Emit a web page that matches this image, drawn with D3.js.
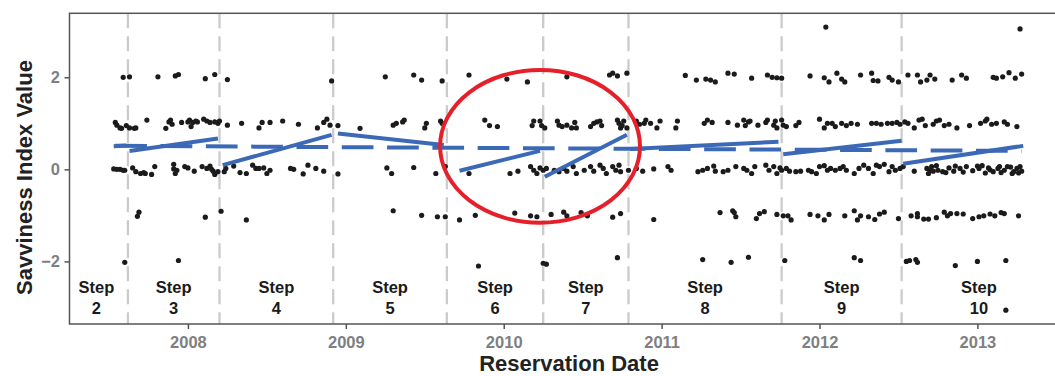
<!DOCTYPE html>
<html>
<head>
<meta charset="utf-8">
<script src="https://cdn.jsdelivr.net/npm/d3@7"></script>
<style>
  body { margin: 0; background: #fff; }
  svg { display: block; font-family: "Liberation Sans", Arial, sans-serif; }
</style>
</head>
<body>
<svg id="chart" width="1055" height="376"></svg>
<script>
// points, grouped by answer level: [decimal year, index value]
const level3 = [[2012.04, 3.09], [2013.27, 3.05]];
const level2 = [
  [2007.59, 2.00], [2007.63, 2.01], [2007.81, 2.01], [2007.92, 2.03], [2007.94, 2.06], [2008.11, 1.97],
  [2008.17, 2.06], [2008.25, 1.95], [2008.91, 1.92], [2009.25, 2.01], [2009.43, 2.05], [2009.48, 1.94],
  [2009.61, 1.92], [2009.78, 2.05], [2010.02, 1.96], [2010.15, 1.90], [2010.40, 2.01], [2010.67, 2.05],
  [2010.69, 2.09], [2010.72, 2.03], [2010.78, 2.09], [2011.15, 2.04], [2011.22, 1.94], [2011.28, 1.96],
  [2011.31, 1.94], [2011.34, 1.90], [2011.42, 2.09], [2011.46, 2.07], [2011.57, 1.98], [2011.67, 2.05],
  [2011.70, 2.00], [2011.73, 1.99], [2011.76, 1.98], [2011.94, 2.03], [2012.03, 1.99], [2012.06, 1.90],
  [2012.11, 2.09], [2012.14, 1.96], [2012.16, 1.90], [2012.26, 2.05], [2012.33, 2.09], [2012.34, 1.93],
  [2012.37, 1.92], [2012.44, 2.00], [2012.46, 1.94], [2012.50, 1.90], [2012.56, 2.05], [2012.62, 2.05],
  [2012.64, 1.90], [2012.68, 1.94], [2012.70, 2.05], [2012.73, 1.96], [2012.84, 1.94], [2012.90, 2.05],
  [2012.93, 1.98], [2013.10, 2.00], [2013.12, 1.98], [2013.16, 2.01], [2013.20, 2.10], [2013.24, 1.98],
  [2013.28, 2.07]
];
const level1 = [
  [2007.54, 1.02], [2007.55, 0.96], [2007.57, 0.90], [2007.58, 0.89], [2007.61, 0.95], [2007.63, 0.90],
  [2007.66, 0.89], [2007.67, 0.90], [2007.74, 1.07], [2007.86, 0.89], [2007.88, 1.03], [2007.89, 1.07],
  [2007.90, 0.98], [2007.96, 1.02], [2008.00, 1.03], [2008.01, 1.07], [2008.02, 0.93], [2008.03, 1.02],
  [2008.05, 1.05], [2008.06, 1.03], [2008.10, 1.09], [2008.12, 1.05], [2008.14, 1.02], [2008.17, 1.03],
  [2008.19, 1.00], [2008.20, 1.05], [2008.25, 0.96], [2008.34, 1.00], [2008.45, 0.90], [2008.47, 1.02],
  [2008.52, 1.02], [2008.60, 1.05], [2008.70, 0.98], [2008.82, 0.90], [2008.86, 1.02], [2008.88, 1.09],
  [2008.90, 0.96], [2008.95, 0.95], [2009.09, 0.89], [2009.30, 0.96], [2009.32, 1.00], [2009.36, 1.03],
  [2009.37, 1.07], [2009.50, 0.90], [2009.51, 1.00], [2009.60, 1.05], [2009.61, 1.00], [2009.88, 1.07],
  [2009.91, 0.95], [2009.96, 0.93], [2010.18, 0.95], [2010.19, 1.05], [2010.23, 1.05], [2010.24, 0.95],
  [2010.26, 0.90], [2010.34, 1.05], [2010.35, 0.96], [2010.37, 0.93], [2010.40, 0.96], [2010.43, 0.90],
  [2010.45, 1.02], [2010.46, 0.90], [2010.55, 0.93], [2010.57, 1.00], [2010.59, 1.03], [2010.61, 1.05],
  [2010.62, 0.95], [2010.72, 1.07], [2010.73, 1.00], [2010.74, 0.90], [2010.75, 0.95], [2010.76, 1.05],
  [2010.78, 0.90], [2010.84, 1.05], [2010.86, 0.98], [2010.89, 1.00], [2010.90, 1.07], [2010.93, 1.00],
  [2010.97, 0.90], [2010.99, 1.05], [2011.09, 0.90], [2011.10, 1.05], [2011.27, 1.00], [2011.29, 1.07],
  [2011.32, 1.02], [2011.42, 1.02], [2011.48, 0.96], [2011.52, 1.07], [2011.53, 0.95], [2011.55, 1.03],
  [2011.56, 1.05], [2011.61, 0.96], [2011.66, 1.02], [2011.67, 1.07], [2011.71, 0.96], [2011.72, 1.05],
  [2011.73, 0.90], [2011.76, 1.07], [2011.77, 0.96], [2011.79, 0.93], [2011.85, 0.95], [2011.87, 1.02],
  [2012.00, 1.09], [2012.03, 0.90], [2012.05, 1.00], [2012.08, 1.00], [2012.10, 0.93], [2012.14, 1.00],
  [2012.17, 0.95], [2012.20, 1.00], [2012.24, 0.98], [2012.33, 1.00], [2012.36, 1.00], [2012.39, 0.98],
  [2012.43, 1.00], [2012.46, 1.00], [2012.49, 1.02], [2012.51, 0.98], [2012.54, 1.03], [2012.56, 1.00],
  [2012.60, 0.90], [2012.63, 1.07], [2012.65, 1.09], [2012.67, 0.95], [2012.72, 0.98], [2012.74, 1.05],
  [2012.76, 1.07], [2012.79, 0.95], [2012.82, 0.98], [2012.87, 0.90], [2012.95, 0.95], [2013.02, 1.00],
  [2013.05, 1.05], [2013.06, 1.09], [2013.09, 0.98], [2013.12, 1.00], [2013.17, 1.03], [2013.19, 0.98],
  [2013.25, 0.93]
];
const level0 = [
  [2007.53, 0.01], [2007.55, 0.00], [2007.57, 0.00], [2007.59, -0.02], [2007.60, -0.02], [2007.65, 0.03],
  [2007.67, -0.05], [2007.70, -0.09], [2007.72, -0.07], [2007.73, -0.09], [2007.77, -0.11], [2007.79, 0.06],
  [2007.91, 0.11], [2007.91, 0.01], [2007.92, -0.09], [2007.93, -0.02], [2007.98, 0.06], [2008.00, 0.03],
  [2008.04, -0.04], [2008.09, 0.06], [2008.12, 0.02], [2008.14, 0.07], [2008.15, 0.00], [2008.16, -0.04],
  [2008.17, -0.11], [2008.19, -0.05], [2008.23, -0.05], [2008.24, 0.02], [2008.29, 0.07], [2008.33, -0.07],
  [2008.37, -0.09], [2008.41, 0.09], [2008.43, 0.02], [2008.45, 0.02], [2008.48, 0.03], [2008.50, -0.09],
  [2008.52, -0.02], [2008.65, 0.02], [2008.67, 0.00], [2008.73, -0.10], [2008.76, 0.09], [2008.81, 0.02],
  [2008.86, -0.04], [2008.95, -0.10], [2009.26, 0.03], [2009.29, -0.09], [2009.43, 0.04], [2009.57, -0.09],
  [2009.63, 0.06], [2009.78, -0.09], [2010.04, -0.09], [2010.09, -0.04], [2010.17, 0.06], [2010.19, -0.02],
  [2010.21, -0.09], [2010.23, 0.03], [2010.25, -0.02], [2010.27, 0.02], [2010.32, -0.02], [2010.35, -0.05],
  [2010.38, 0.02], [2010.40, -0.04], [2010.44, 0.06], [2010.46, -0.09], [2010.51, -0.02], [2010.55, 0.06],
  [2010.57, -0.04], [2010.61, 0.09], [2010.63, 0.02], [2010.65, -0.09], [2010.69, 0.06], [2010.71, -0.02],
  [2010.73, 0.09], [2010.74, -0.05], [2010.79, -0.02], [2010.84, 0.02], [2010.88, -0.04], [2010.95, 0.01],
  [2011.04, 0.06], [2011.06, -0.02], [2011.23, -0.05], [2011.26, -0.02], [2011.29, 0.02], [2011.33, 0.07],
  [2011.34, -0.04], [2011.39, -0.05], [2011.42, -0.02], [2011.47, 0.06], [2011.52, 0.02], [2011.54, -0.02],
  [2011.57, -0.09], [2011.59, 0.06], [2011.66, 0.09], [2011.68, -0.02], [2011.71, 0.06], [2011.73, -0.09],
  [2011.75, 0.03], [2011.76, -0.02], [2011.79, 0.02], [2011.81, -0.04], [2011.85, -0.05], [2011.88, -0.04],
  [2011.93, -0.02], [2011.95, -0.05], [2011.98, -0.09], [2012.00, 0.06], [2012.03, 0.08], [2012.05, -0.02],
  [2012.07, 0.02], [2012.10, -0.02], [2012.13, 0.02], [2012.15, 0.06], [2012.17, -0.02], [2012.22, -0.09],
  [2012.25, 0.02], [2012.28, 0.09], [2012.31, 0.02], [2012.34, -0.09], [2012.36, 0.09], [2012.38, 0.06],
  [2012.41, 0.11], [2012.44, -0.05], [2012.46, 0.06], [2012.48, -0.02], [2012.51, 0.02], [2012.53, 0.06],
  [2012.60, -0.04], [2012.68, 0.02], [2012.69, -0.09], [2012.70, -0.02], [2012.71, 0.06], [2012.72, -0.04],
  [2012.74, 0.08], [2012.75, -0.02], [2012.78, -0.05], [2012.80, -0.07], [2012.82, 0.03], [2012.85, -0.04],
  [2012.86, 0.07], [2012.89, 0.02], [2012.91, -0.06], [2012.93, 0.06], [2012.97, -0.03], [2013.00, 0.07],
  [2013.01, 0.02], [2013.03, 0.08], [2013.05, -0.08], [2013.07, 0.03], [2013.08, -0.01], [2013.10, -0.05],
  [2013.13, 0.02], [2013.14, 0.06], [2013.15, -0.07], [2013.17, -0.02], [2013.19, 0.06], [2013.21, 0.05],
  [2013.22, -0.09], [2013.23, -0.05], [2013.25, 0.02], [2013.26, -0.08], [2013.27, 0.06], [2013.28, -0.04]
];
const levelMinus1 = [
  [2007.68, -1.02], [2007.69, -0.93], [2008.11, -1.04], [2008.21, -0.91], [2008.37, -1.10], [2009.30, -0.90],
  [2009.48, -1.00], [2009.58, -1.03], [2009.63, -1.03], [2009.72, -1.10], [2009.82, -1.00], [2010.07, -0.95],
  [2010.17, -1.01], [2010.21, -1.03], [2010.30, -0.98], [2010.38, -0.93], [2010.40, -1.01], [2010.49, -0.94],
  [2010.53, -1.01], [2010.69, -1.04], [2010.74, -0.96], [2010.95, -1.09], [2011.37, -0.94], [2011.45, -0.90],
  [2011.46, -0.94], [2011.47, -1.03], [2011.60, -1.07], [2011.62, -0.96], [2011.65, -0.92], [2011.73, -0.98],
  [2011.77, -1.01], [2011.80, -1.01], [2011.82, -1.10], [2011.94, -0.98], [2011.99, -1.01], [2012.03, -1.10],
  [2012.06, -0.98], [2012.16, -1.01], [2012.22, -0.90], [2012.24, -1.10], [2012.26, -1.01], [2012.31, -1.03],
  [2012.35, -1.09], [2012.38, -0.97], [2012.41, -0.93], [2012.50, -1.07], [2012.58, -1.01], [2012.62, -0.96],
  [2012.62, -1.03], [2012.66, -1.08], [2012.69, -1.08], [2012.74, -1.05], [2012.79, -0.93], [2012.81, -1.01],
  [2012.83, -0.96], [2012.87, -0.96], [2012.91, -0.97], [2012.97, -1.07], [2013.01, -1.03], [2013.04, -1.01],
  [2013.08, -0.97], [2013.11, -1.01], [2013.15, -0.94], [2013.17, -0.96], [2013.26, -1.01]
];
const levelMinus2 = [
  [2007.60, -2.02], [2007.94, -1.98], [2009.84, -2.10], [2010.25, -2.04], [2010.27, -2.06], [2010.72, -1.92],
  [2011.26, -1.96], [2011.44, -2.02], [2011.55, -1.91], [2011.78, -1.98], [2012.22, -1.92], [2012.26, -1.98],
  [2012.55, -2.00], [2012.57, -1.98], [2012.61, -1.96], [2012.62, -2.02], [2012.86, -2.09], [2013.00, -2.00],
  [2013.18, -1.98]
];
const levelMinus3 = [[2013.18, -3.06]];

// rollout steps: start of each step (decimal year), end of the last one
const stepStarts = [2007.22, 2007.62, 2008.20, 2008.92, 2009.64, 2010.25, 2010.79, 2011.76, 2012.52];
const stepEnd = 2013.50;
const stepNames = ['2', '3', '4', '5', '6', '7', '8', '9', '10'];

// per-step linear fits [year0, value0, year1, value1]
const stepFits = [
  [2007.53, 0.50, 2007.61, 0.52],
  [2007.63, 0.40, 2008.19, 0.67],
  [2008.22, 0.09, 2008.91, 0.75],
  [2008.95, 0.78, 2009.62, 0.53],
  [2009.72, -0.03, 2010.23, 0.40],
  [2010.26, -0.16, 2010.78, 0.75],
  [2010.80, 0.44, 2011.74, 0.60],
  [2011.77, 0.33, 2012.52, 0.62],
  [2012.53, 0.12, 2013.29, 0.51]
];
const overallFit = [[2007.54, 0.51], [2013.28, 0.40]];

const yearTicks = [2008, 2009, 2010, 2011, 2012, 2013];
const valueTicks = [-2, 0, 2];

// red ring around steps 6 and 7
const ringCenter = [2010.23, 0.50];
const ringHalfYears = 0.633;
const ringHalfValue = 1.66;

const svg = d3.select('#chart');
const panelLeft = 69.5, panelTop = 13.3, panelBottom = 324;
const pxPerYear = 157.9;
const xMin = 2007.25, xMax = 2013.6;

const x = d3.scaleLinear().domain([xMin, xMax]).range([panelLeft, panelLeft + (xMax - xMin) * pxPerYear]);
const y = d3.scaleLinear().domain([-3.36, 3.39]).range([panelBottom, panelTop]);

const blue = '#3c69b6';

// step boundaries
svg.append('g').selectAll('line').data(stepStarts.slice(1)).enter()
  .append('line')
  .attr('x1', d => x(d)).attr('x2', d => x(d))
  .attr('y1', panelTop).attr('y2', panelBottom)
  .attr('stroke', '#cbcbcb')
  .attr('stroke-width', 2.3)
  .attr('stroke-dasharray', '15,8');

// points
const allPoints = [].concat(level3, level2, level1, level0, levelMinus1, levelMinus2, levelMinus3);
svg.append('g').selectAll('circle').data(allPoints).enter()
  .append('circle')
  .attr('cx', d => x(d[0]))
  .attr('cy', d => y(d[1]))
  .attr('r', 2.6)
  .attr('fill', '#1b1b1b');

// overall trend (dashed)
svg.append('line')
  .attr('x1', x(overallFit[0][0])).attr('y1', y(overallFit[0][1]))
  .attr('x2', x(overallFit[1][0])).attr('y2', y(overallFit[1][1]))
  .attr('stroke', blue)
  .attr('stroke-width', 4)
  .attr('stroke-dasharray', '31.7,13.6');

// step fits
svg.append('g').selectAll('line').data(stepFits).enter()
  .append('line')
  .attr('x1', d => x(d[0])).attr('y1', d => y(d[1]))
  .attr('x2', d => x(d[2])).attr('y2', d => y(d[3]))
  .attr('stroke', blue)
  .attr('stroke-width', 4);

// step labels
const labelValue = -2.92;
const labels = svg.append('g')
  .attr('font-size', '16.5px')
  .attr('font-weight', 'bold')
  .attr('fill', '#1a1a1a')
  .attr('text-anchor', 'middle');
stepStarts.forEach((s, i) => {
  const e = i + 1 < stepStarts.length ? stepStarts[i + 1] : stepEnd;
  const cx = x((s + e) / 2);
  const t = labels.append('text').attr('x', cx).attr('y', y(labelValue));
  t.append('tspan').attr('x', cx).attr('dy', -10.5).text('Step');
  t.append('tspan').attr('x', cx).attr('dy', 21).text(stepNames[i]);
});

// ring
svg.append('ellipse')
  .attr('cx', x(ringCenter[0]))
  .attr('cy', y(ringCenter[1]))
  .attr('rx', x(ringCenter[0] + ringHalfYears) - x(ringCenter[0]))
  .attr('ry', y(ringCenter[1] - ringHalfValue) - y(ringCenter[1]))
  .attr('fill', 'none')
  .attr('stroke', '#e5202a')
  .attr('stroke-width', 4);

// panel border
svg.append('rect')
  .attr('x', panelLeft).attr('y', panelTop)
  .attr('width', 1100).attr('height', panelBottom - panelTop)
  .attr('fill', 'none')
  .attr('stroke', '#555')
  .attr('stroke-width', 1.5);

// axes
const xAxis = svg.append('g')
  .attr('transform', 'translate(0,' + panelBottom + ')')
  .call(d3.axisBottom(x).tickValues(yearTicks).tickFormat(d3.format('d')).tickSize(5).tickPadding(7));
const yAxis = svg.append('g')
  .attr('transform', 'translate(' + panelLeft + ',0)')
  .call(d3.axisLeft(y).tickValues(valueTicks).tickFormat(d3.format('d')).tickSize(5).tickPadding(4.5));
[xAxis, yAxis].forEach(a => {
  a.select('.domain').remove();
  a.selectAll('.tick line').attr('stroke', '#555').attr('stroke-width', 1.5);
  a.selectAll('.tick text')
    .attr('font-family', '"Liberation Sans", Arial, sans-serif')
    .attr('font-size', '16.5px')
    .attr('font-weight', 'bold')
    .attr('fill', '#7f7f7f');
});

// titles
svg.append('text')
  .attr('x', 569).attr('y', 371)
  .attr('text-anchor', 'middle')
  .attr('font-size', '22px').attr('font-weight', 'bold').attr('fill', '#222')
  .text('Reservation Date');
svg.append('text')
  .attr('transform', 'translate(32,177.5) rotate(-90)')
  .attr('text-anchor', 'middle')
  .attr('font-size', '22px').attr('font-weight', 'bold').attr('fill', '#222')
  .text('Savviness Index Value');
</script>
</body>
</html>
